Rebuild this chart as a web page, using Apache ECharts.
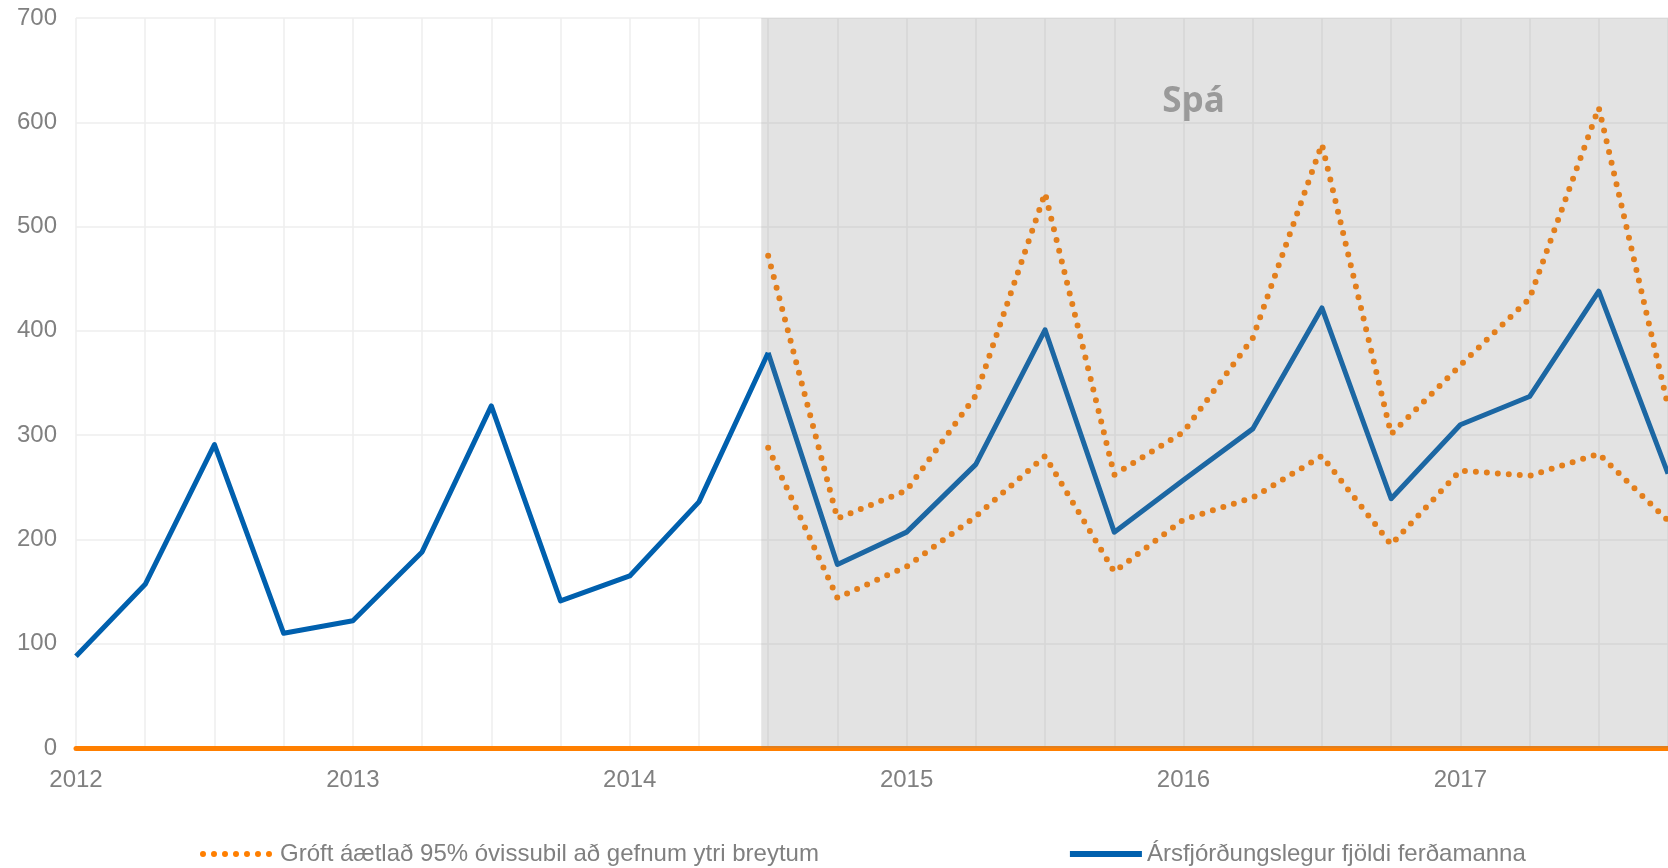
<!DOCTYPE html>
<html>
<head>
<meta charset="utf-8">
<script src="https://cdn.jsdelivr.net/npm/echarts@6/dist/echarts.min.js"></script>
<style>
  html, body { margin: 0; padding: 0; background: #fff; }
  #chart { width: 1668px; height: 868px; }
</style>
</head>
<body>
<div id="chart"></div>
<script>
  // ársfjórðungar frá 2012K1, merki aðeins á hverju ári
  var years = ['2012', '2013', '2014', '2015', '2016', '2017'];

  // rauntölur 2012K1 - 2014K3 (þús.)
  var actual = [88, 157, 291, 110, 122, 188, 328, 141, 165, 236, 379];

  // spá frá 2014K3 (vísir 10) til 2017K4
  var forecastStart = 10;
  var forecast = [379, 176, 207, 272, 401, 207, 257, 306, 422, 239, 310, 337, 438, 263];
  var upper    = [472, 220, 247, 338, 532, 262, 303, 393, 579, 301, 367, 431, 614, 328];
  var lower    = [288, 144, 174, 222, 280, 169, 219, 240, 280, 195, 266, 261, 282, 218];

  var nameBand = 'Gróft áætlað 95% óvissubil að gefnum ytri breytum';
  var nameLine = 'Ársfjórðungslegur fjöldi ferðamanna';

  function pairs(arr, start) {
    return arr.map(function (v, i) { return [start + i, v]; });
  }

  var font = "'Liberation Sans', Arial, sans-serif";
  var chart = echarts.init(document.getElementById('chart'));

  var dotted = {
    color: '#FF7F00',
    width: 6,
    type: [0, 11],
    cap: 'round'
  };

  chart.setOption({
    animation: false,
    grid: {
      left: 76,
      top: 18,
      width: 1594,
      height: 730
    },
    legend: {
      left: 195,
      top: 837,
      itemWidth: 72,
      itemHeight: 14,
      itemGap: 248,
      itemStyle: { color: 'rgba(0,0,0,0)', borderWidth: 0 },
      lineStyle: { width: 6 },
      textStyle: { color: '#808080', fontSize: 24, fontFamily: font },
      data: [nameBand, nameLine]
    },
    xAxis: {
      type: 'value',
      min: 0,
      max: 23,
      interval: 1,
      axisLine: { show: true, onZero: false, lineStyle: { color: '#FF7F00', width: 5 } },
      axisTick: { show: false },
      axisLabel: {
        color: '#808080',
        fontSize: 24,
        fontFamily: font,
        margin: 20,
        showMaxLabel: false,
        formatter: function (v) {
          return v % 4 === 0 ? (years[v / 4] || '') : '';
        }
      },
      splitLine: { show: true, lineStyle: { color: '#EEEEEE', width: 1.5 } }
    },
    yAxis: {
      type: 'value',
      min: 0,
      max: 700,
      interval: 100,
      axisLine: { show: false },
      axisTick: { show: false },
      axisLabel: { color: '#808080', fontSize: 24, fontFamily: font, margin: 19 },
      splitLine: { lineStyle: { color: '#EEEEEE', width: 1.5 } }
    },
    series: [
      {
        name: nameLine,
        type: 'line',
        z: 4,
        symbol: 'none',
        data: pairs(actual, 0),
        lineStyle: { color: '#0060AE', width: 5, join: 'round' },
        itemStyle: { color: '#0060AE' }
      },
      {
        name: nameLine,
        type: 'line',
        z: 2,
        symbol: 'none',
        data: pairs(forecast, forecastStart),
        lineStyle: { color: '#0060AE', width: 5, join: 'round' },
        itemStyle: { color: '#0060AE' },
        markArea: {
          z: 3,
          silent: true,
          itemStyle: { color: 'rgba(129,129,129,0.22)' },
          label: {
            show: true,
            position: 'insideTop',
            offset: [-21, 62],
            color: '#9A9A9A',
            fontSize: 35,
            fontWeight: 'bold',
            fontFamily: "'Open Sans', sans-serif"
          },
          data: [[
            { name: 'Spá', xAxis: 9.9, yAxis: -4 },
            { xAxis: 23, yAxis: 700 }
          ]]
        }
      },
      {
        name: nameBand,
        type: 'line',
        z: 2,
        symbol: 'none',
        data: pairs(upper, forecastStart),
        lineStyle: dotted,
        itemStyle: { color: '#FF7F00' }
      },
      {
        name: nameBand,
        type: 'line',
        z: 2,
        symbol: 'none',
        data: pairs(lower, forecastStart),
        lineStyle: dotted,
        itemStyle: { color: '#FF7F00' }
      }
    ]
  });
</script>
</body>
</html>
